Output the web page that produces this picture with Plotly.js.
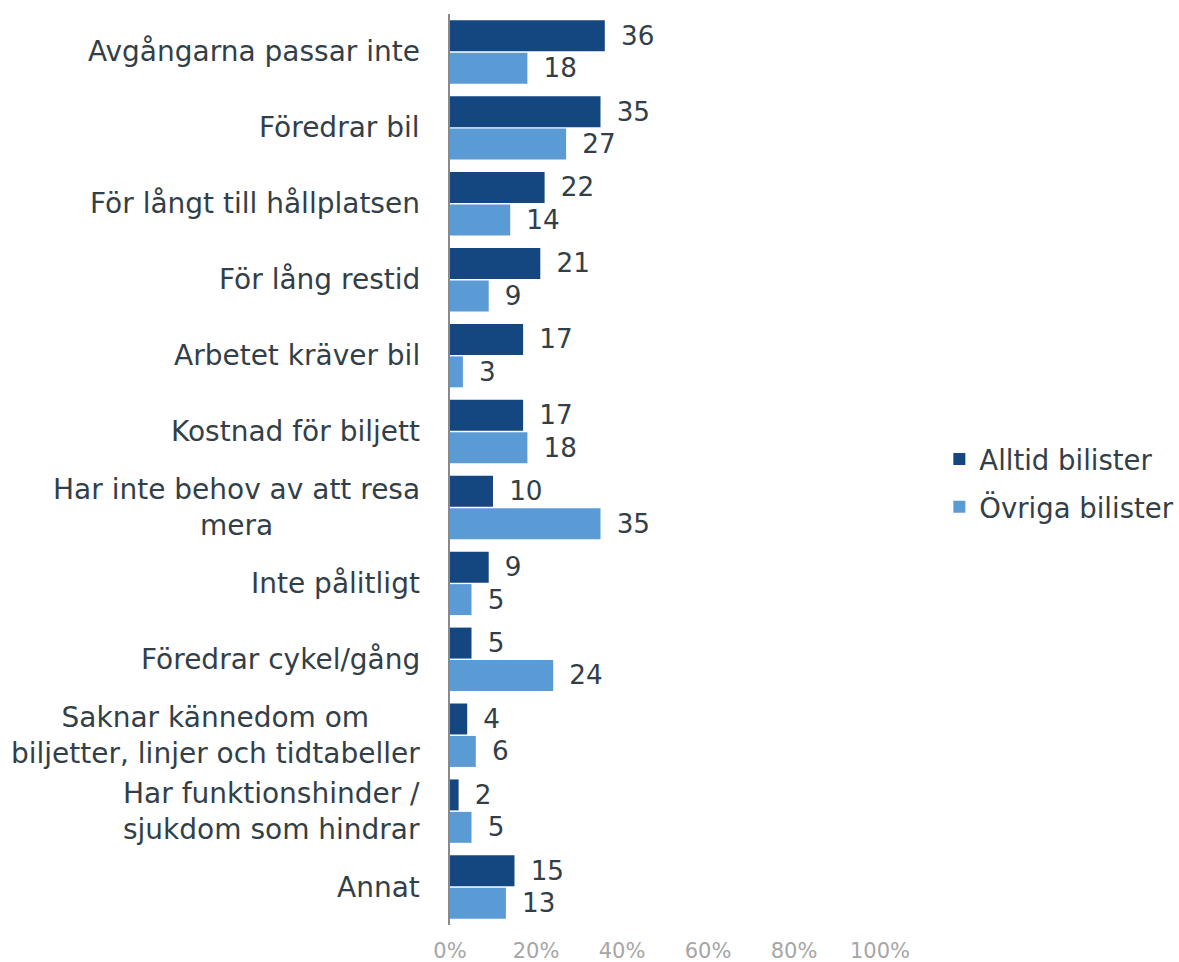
<!DOCTYPE html>
<html>
<head>
<meta charset="utf-8">
<script src="https://cdn.plot.ly/plotly-3.0.1.min.js"></script>
<style>html,body{margin:0;padding:0;background:#fff;}#chart{width:1179px;height:962px;}</style>
</head>
<body>
<div id="chart"></div>
<script>
const categories = [
  "Avgångarna passar inte",
  "Föredrar bil",
  "För långt till hållplatsen",
  "För lång restid",
  "Arbetet kräver bil",
  "Kostnad för biljett",
  "Har inte behov av att resa<br>mera",
  "Inte pålitligt",
  "Föredrar cykel/gång",
  "Saknar kännedom om<br>biljetter, linjer och tidtabeller",
  "Har funktionshinder /<br>sjukdom som hindrar",
  "Annat"
];
const alltid = [36, 35, 22, 21, 17, 17, 10, 9, 5, 4, 2, 15];
const ovriga = [18, 27, 14, 9, 3, 18, 35, 5, 24, 6, 5, 13];
const seriesNames = ["Alltid bilister", "Övriga bilister"];
const tickVals = [0, 20, 40, 60, 80, 100];
const tickText = ["0%", "20%", "40%", "60%", "80%", "100%"];

const FONT = "DejaVu Sans, Verdana, sans-serif";
const TXT = "#333f48";

function barTrace(name, vals, color, grp) {
  return {
    type: "bar", orientation: "h", name: name, legendgroup: grp,
    y: categories, x: vals,
    marker: {color: color},
    text: vals.map(v => String(v)),
    texttemplate: "\u2002%{text}",
    textposition: "outside",
    cliponaxis: false,
    textfont: {family: FONT, size: 28, color: TXT},
    hoverinfo: "skip"
  };
}

const data = [
  barTrace(seriesNames[0], alltid, "#14467f", "a"),
  barTrace(seriesNames[1], ovriga, "#5b9bd5", "b")
];

const annotations = categories.map(c => ({
  xref: "paper", yref: "y", x: -0.065, y: c,
  xanchor: "right", yanchor: "middle", align: "center",
  text: c, showarrow: false,
  font: {family: FONT, size: 28, color: TXT}
}));

const layout = {
  width: 1179, height: 962,
  margin: {l: 450, r: 299, t: 14, b: 37, autoexpand: false},
  paper_bgcolor: "#fff", plot_bgcolor: "#fff",
  barmode: "group", bargap: 0.145, bargroupgap: 0.046,
  showlegend: true,
  legend: {
    x: 1.138, y: 0.485, xanchor: "left", yanchor: "middle",
    font: {family: FONT, size: 27.5, color: TXT},
    itemwidth: 30, traceorder: "grouped", tracegroupgap: 9
  },
  xaxis: {
    range: [0, 100], tickvals: tickVals, ticktext: tickText,
    showgrid: false, zeroline: false, showline: false, ticks: "",
    tickfont: {family: FONT, size: 21, color: "#a6a6a6"},
    fixedrange: true, automargin: false, ticklabelstandoff: 11
  },
  yaxis: {
    autorange: "reversed", showticklabels: false, ticks: "",
    showline: true, linecolor: "#898989", linewidth: 2,
    showgrid: false, zeroline: false, automargin: false, fixedrange: true
  },
  annotations: annotations
};

Plotly.newPlot("chart", data, layout, {displayModeBar: false, staticPlot: true});
</script>
</body>
</html>
